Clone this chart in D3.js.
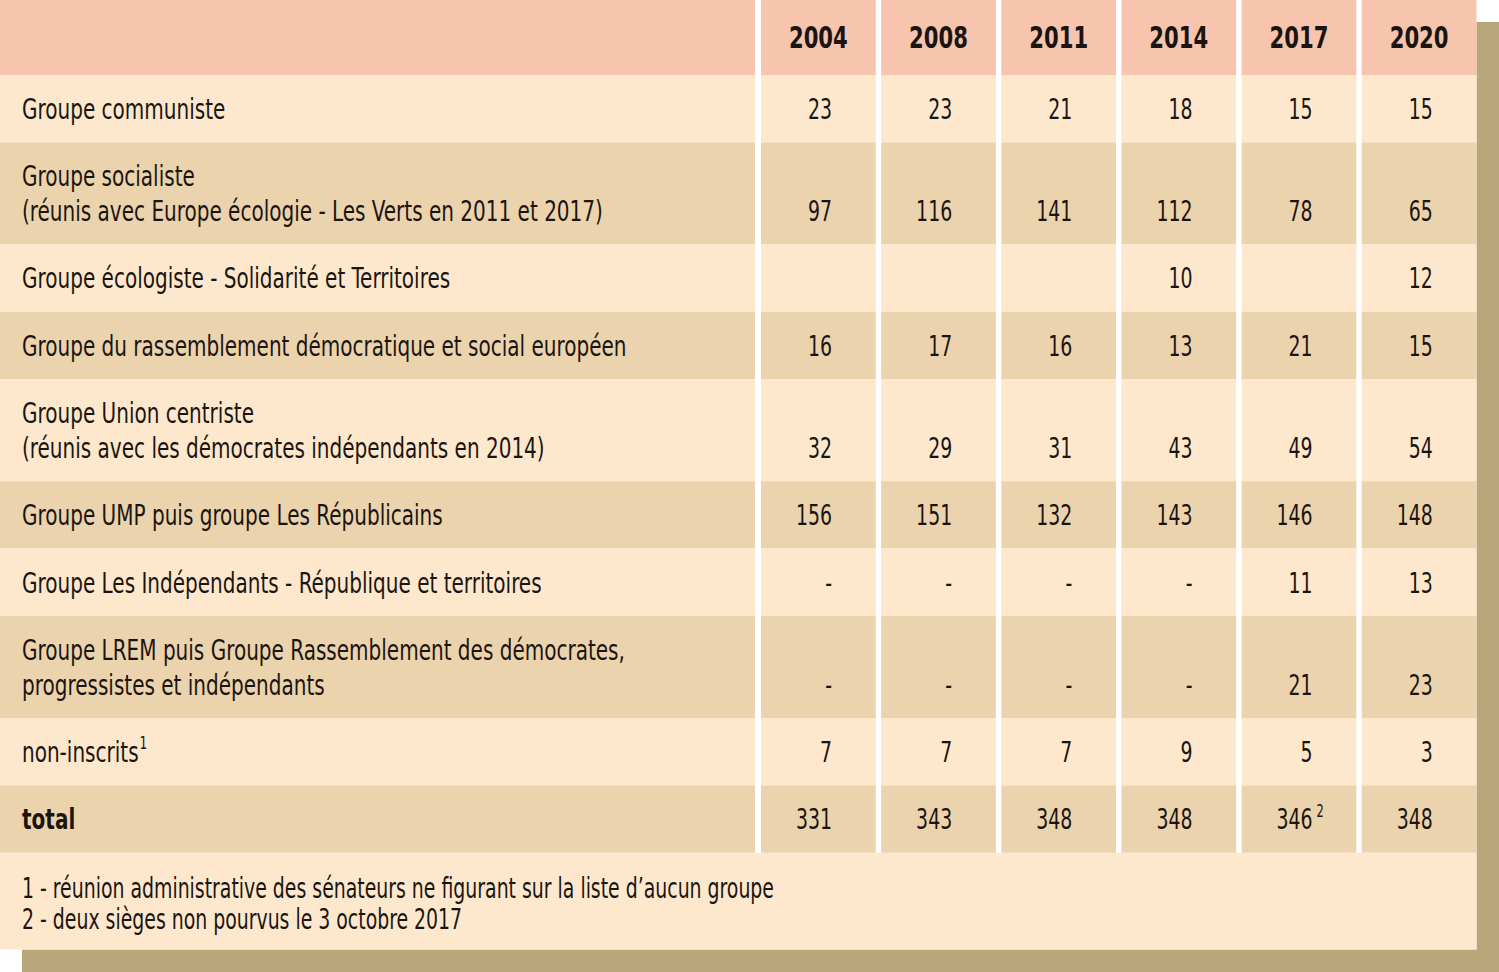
<!DOCTYPE html>
<html>
<head>
<meta charset="utf-8">
<script src="https://cdn.jsdelivr.net/npm/d3@7"></script>
<style>
html,body{margin:0;padding:0;background:#fff;}
svg{display:block;}
text{font-family:"Liberation Sans Narrow","DejaVu Sans Condensed",sans-serif;fill:#1b1511;}
</style>
</head>
<body>
<svg id="chart" width="1499" height="972"></svg>
<script>
const years = ["2004","2008","2011","2014","2017","2020"];
const rowLabels = [
  ["Groupe communiste"],
  ["Groupe socialiste","(réunis avec Europe écologie - Les Verts en 2011 et 2017)"],
  ["Groupe écologiste - Solidarité et Territoires"],
  ["Groupe du rassemblement démocratique et social européen"],
  ["Groupe Union centriste","(réunis avec les démocrates indépendants en 2014)"],
  ["Groupe UMP puis groupe Les Républicains"],
  ["Groupe Les Indépendants - République et territoires"],
  ["Groupe LREM puis Groupe Rassemblement des démocrates,","progressistes et indépendants"],
  ["non-inscrits"],
  ["total"]
];
const labelNotes = ["","","","","","","","","1",""];
const values = [
  ["23","23","21","18","15","15"],
  ["97","116","141","112","78","65"],
  ["","","","10","","12"],
  ["16","17","16","13","21","15"],
  ["32","29","31","43","49","54"],
  ["156","151","132","143","146","148"],
  ["-","-","-","-","11","13"],
  ["-","-","-","-","21","23"],
  ["7","7","7","9","5","3"],
  ["331","343","348","348","346","348"]
];
const valueNotes = [
  ["","","","","",""],["","","","","",""],["","","","","",""],["","","","","",""],
  ["","","","","",""],["","","","","",""],["","","","","",""],["","","","","",""],
  ["","","","","",""],["","","","","2",""]
];
const footnotes = [
  "1 - réunion administrative des sénateurs ne figurant sur la liste d\u2019aucun groupe",
  "2 - deux sièges non pourvus le 3 octobre 2017"
];

const C = {header:"#f7c5ae", light:"#fde8cd", dark:"#ebd3ad", shadow:"#b9a67b"};
const SX = {label:0.795, num:0.75, head:0.76, foot:0.75};
const svg = d3.select("#chart");
const W = 1476.5, H = 949.5;

function addText(px, py, sx, txt, size, opts){
  opts = opts || {};
  const g = svg.append("g").attr("transform",`translate(${px},${py}) scale(${sx},1)`);
  const t = g.append("text").attr("x",0).attr("y",0).attr("font-size",size)
    .attr("text-anchor",opts.anchor||"start").attr("font-weight",opts.bold?"bold":"normal").text(txt);
  return t;
}

// shadow
svg.append("rect").attr("x",22).attr("y",22).attr("width",1499-22).attr("height",972-22).attr("fill",C.shadow);
svg.append("rect").attr("x",0).attr("y",0).attr("width",W).attr("height",H).attr("fill","#fff");

const headerH = 75, singleH = 67.4, doubleH = 102;
const rowTops = [];
let yy = headerH;
rowLabels.forEach((l,i)=>{rowTops.push(yy); yy += l.length>1?doubleH:singleH;});
const tableBottom = yy;

const x = d3.scaleBand().domain(years).range([761, W]).paddingInner(0.045).paddingOuter(0);
const labelRight = 755;

function rowFill(i){return i%2===0?C.light:C.dark;}

// header
svg.append("rect").attr("x",0).attr("y",0).attr("width",labelRight).attr("height",headerH).attr("fill",C.header);
svg.selectAll(".hcell").data(years).join("rect").attr("class","hcell")
  .attr("x",d=>x(d)).attr("y",0).attr("width",x.bandwidth()).attr("height",headerH).attr("fill",C.header);
years.forEach(d=>addText(x(d)+x.bandwidth()/2, 48, SX.head, d, 31, {anchor:"middle", bold:true}));

// rows
rowLabels.forEach((lines,i)=>{
  const top = rowTops[i], h = lines.length>1?doubleH:singleH;
  const fill = rowFill(i);
  const bold = i===rowLabels.length-1;
  svg.append("rect").attr("x",0).attr("y",top).attr("width",labelRight).attr("height",h).attr("fill",fill);
  svg.selectAll(null).data(years).join("rect")
    .attr("x",d=>x(d)).attr("y",top).attr("width",x.bandwidth()).attr("height",h).attr("fill",fill);
  const firstBase = top+44;
  const lastBase = firstBase + (lines.length-1)*35;
  lines.forEach((ln,k)=>{
    const t = addText(22, firstBase+k*35, SX.label, ln, 28, {bold});
    if(k===lines.length-1 && labelNotes[i]){
      t.append("tspan").attr("font-size",17).attr("dy",-13).attr("dx",1).text(labelNotes[i]);
    }
  });
  years.forEach((yv,j)=>{
    addText(x(yv)+71, lastBase, SX.num, values[i][j], 28, {anchor:"end"});
    if(valueNotes[i][j]){
      addText(x(yv)+75, lastBase-12, SX.num, valueNotes[i][j], 17);
    }
  });
});

// footnote area
svg.append("rect").attr("x",0).attr("y",tableBottom).attr("width",W).attr("height",H-tableBottom).attr("fill",C.light);
footnotes.forEach((d,i)=>addText(22, tableBottom+45+i*31, SX.foot, d, 28));
</script>
</body>
</html>
